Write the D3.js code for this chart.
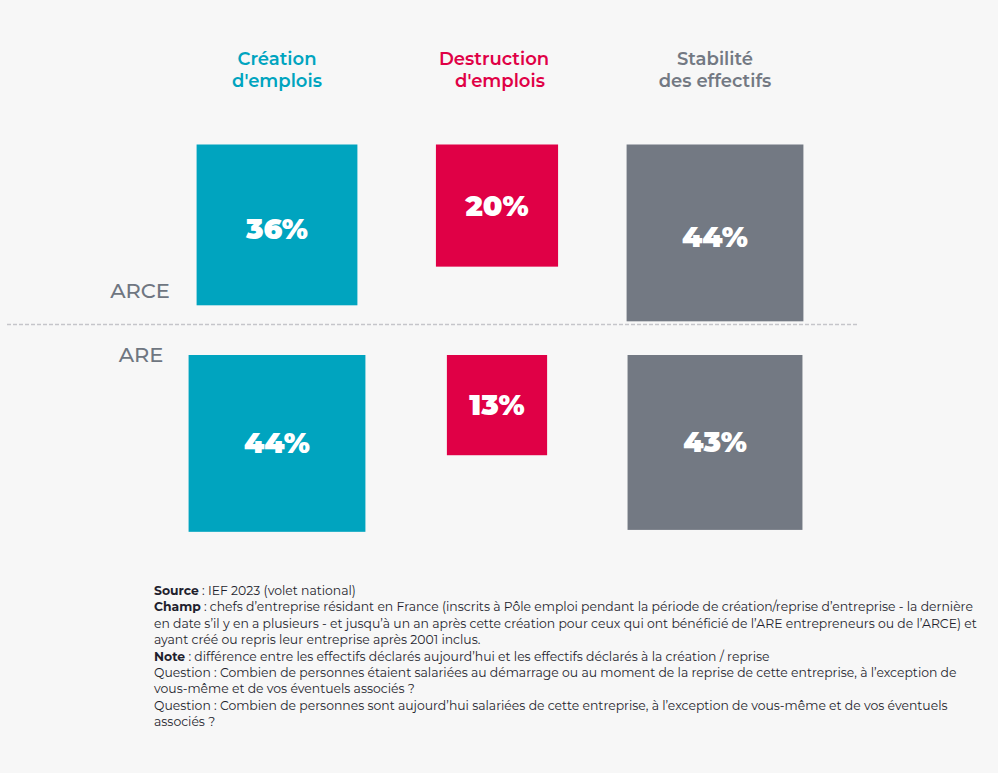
<!DOCTYPE html>
<html><head><meta charset="utf-8">
<script src="https://cdn.jsdelivr.net/npm/d3@7"></script>
<style>
html,body{margin:0;padding:0;background:#f7f7f7;}
svg{display:block;}
</style></head>
<body>
<script>
const categories = ["Création", "Destruction", "Stabilité"];
const headerLines = [["Création", "d'emplois"], ["Destruction", "d'emplois"], ["Stabilité", "des effectifs"]];
const groups = ["ARCE", "ARE"];
const arceValues = [36, 20, 44];
const areValues = [44, 13, 43];
const colors = ["#00a4bf", "#e00046", "#737983"];
const footnotes = [
  [["Source", " : IEF 2023 (volet national)"]],
  [["Champ", " : chefs d’entreprise résidant en France (inscrits à Pôle emploi pendant la période de création/reprise d’entreprise - la dernière"]],
  [["", "en date s’il y en a plusieurs - et jusqu’à un an après cette création pour ceux qui ont bénéficié de l’ARE entrepreneurs ou de l’ARCE) et"]],
  [["", "ayant créé ou repris leur entreprise après 2001 inclus."]],
  [["Note", " : différence entre les effectifs déclarés aujourd’hui et les effectifs déclarés à la création / reprise"]],
  [["", "Question : Combien de personnes étaient salariées au démarrage ou au moment de la reprise de cette entreprise, à l’exception de"]],
  [["", "vous-même et de vos éventuels associés ?"]],
  [["", "Question : Combien de personnes sont aujourd’hui salariées de cette entreprise, à l’exception de vous-même et de vos éventuels"]],
  [["", "associés ?"]]
];

const W = 998, H = 773;
const svg = d3.select("body").append("svg").attr("width", W).attr("height", H);
svg.append("rect").attr("width", W).attr("height", H).attr("fill", "#f7f7f7");

const font = "Montserrat, 'Open Sans', Lato, sans-serif";
const xc = d3.scaleOrdinal().domain(categories).range([277, 497, 715]);
const side = d3.scaleSqrt().domain([0, 100]).range([9, 262]);
const rowTop = d3.scaleOrdinal().domain(groups).range([144.5, 355]);

// headers
headerLines.forEach((lines, i) => {
  const t = svg.append("text")
    .attr("x", xc(categories[i])).attr("y", 65)
    .attr("text-anchor", "middle")
    .attr("fill", colors[i])
    .style("font-family", font).style("font-weight", 600).style("font-size", "18px");
  lines.forEach((l, j) => {
    t.append("tspan").attr("x", xc(categories[i]) + (i === 1 && j === 1 ? 3 : 0) - (i === 1 && j === 0 ? 3 : 0))
      .attr("dy", j === 0 ? 0 : 21.5).text(l);
  });
});

// squares
[arceValues, areValues].forEach((vals, gi) => {
  const g = svg.append("g");
  const data = vals.map((v, i) => ({cat: categories[i], v, color: colors[i]}));
  g.selectAll("rect").data(data).join("rect")
    .attr("x", d => xc(d.cat) - side(d.v) / 2)
    .attr("y", rowTop(groups[gi]))
    .attr("width", d => side(d.v))
    .attr("height", d => side(d.v))
    .attr("fill", d => d.color);
  g.selectAll("text").data(data).join("text")
    .attr("x", d => xc(d.cat))
    .attr("y", d => rowTop(groups[gi]) + side(d.v) / 2 + 10 + (gi === 0 && d.v > 30 ? 4 : 0))
    .attr("text-anchor", "middle")
    .attr("fill", "#fff")
    .style("font-family", font).style("font-weight", 900).style("font-size", "28.5px")
    .text(d => d.v + "%");
});

// group labels
svg.append("text").attr("x", 140).attr("y", 298).attr("text-anchor", "middle")
  .attr("fill", "#6f7681").style("font-family", font).style("font-weight", 500).style("font-size", "21px").text(groups[0]);
svg.append("text").attr("x", 141).attr("y", 362).attr("text-anchor", "middle")
  .attr("fill", "#6f7681").style("font-family", font).style("font-weight", 500).style("font-size", "21px").text(groups[1]);

// dashed separator
svg.append("line").attr("x1", 7).attr("x2", 858).attr("y1", 324.5).attr("y2", 324.5)
  .attr("stroke", "#c5c5ca").attr("stroke-width", 1.5).attr("stroke-dasharray", "4,2");

// footnotes
footnotes.forEach((parts, i) => {
  const t = svg.append("text").attr("x", 154).attr("y", 595 + i * 16.4)
    .attr("fill", "#1f1f2e").style("font-family", font).style("font-size", "12.4px");
  parts.forEach(p => {
    if (p[0]) t.append("tspan").style("font-weight", 700).text(p[0]);
    t.append("tspan").text(p[1]);
  });
});
</script>
</body></html>
